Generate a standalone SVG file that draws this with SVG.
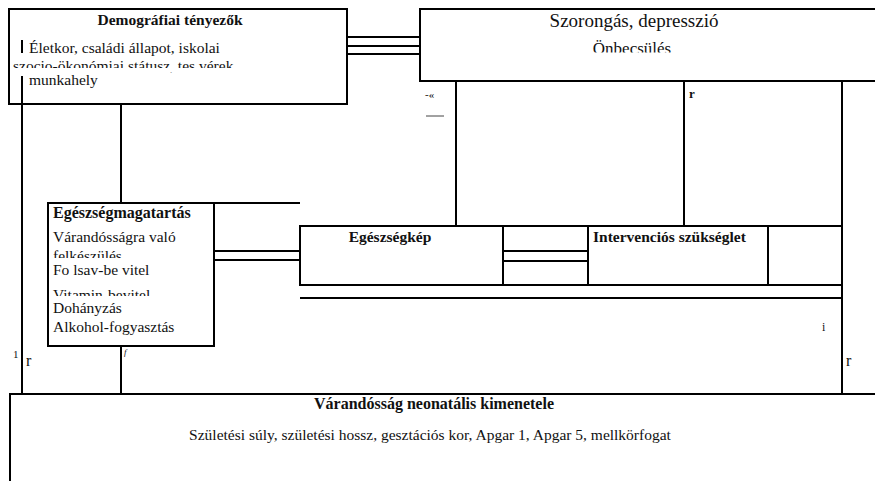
<svg xmlns="http://www.w3.org/2000/svg" width="875" height="481" viewBox="0 0 875 481">
<style>
.b{fill:none;stroke:#000;stroke-width:2}
.l{stroke:#000;stroke-width:2;fill:none}
text{font-family:"Liberation Serif","Times New Roman",serif;fill:#111}
.t{font-size:15.5px}
.h{font-size:15.5px;font-weight:bold}
</style>
<defs>
<clipPath id="c1"><rect x="10" y="0" width="336" height="68"/><rect x="10" y="72" width="336" height="30"/></clipPath>
<clipPath id="c2"><rect x="420" y="0" width="455" height="52.5"/></clipPath>
<clipPath id="c3"><rect x="48" y="204" width="166" height="54"/><rect x="48" y="262" width="166" height="34"/><rect x="48" y="301" width="166" height="45"/></clipPath>
</defs>
<g id="connectors">
<line class="l" x1="347" y1="37" x2="420" y2="37"/>
<line class="l" x1="347" y1="46" x2="420" y2="46"/>
<line class="l" x1="347" y1="54" x2="420" y2="54"/>
<line class="l" x1="22" y1="76" x2="22" y2="394"/>
<line class="l" x1="22" y1="40" x2="22" y2="53"/>
<line class="l" x1="121" y1="104" x2="121" y2="203"/>
<line class="l" x1="121" y1="346" x2="121" y2="394"/>
<line class="l" x1="456" y1="81" x2="456" y2="226"/>
<line class="l" x1="684" y1="81" x2="684" y2="226"/>
<line class="l" x1="842" y1="81" x2="842" y2="394"/>
<line class="l" x1="214" y1="203" x2="300" y2="203"/>
<line class="l" x1="214" y1="251" x2="300" y2="251"/>
<line class="l" x1="214" y1="260" x2="300" y2="260"/>
<line class="l" x1="503" y1="251" x2="588" y2="251"/>
<line class="l" x1="503" y1="261" x2="588" y2="261"/>
<line class="l" x1="300" y1="298" x2="842" y2="298"/>
<text style="font-size:11px" x="425" y="98">-«</text>
<line x1="426" y1="116" x2="444" y2="116" stroke="#444" stroke-width="1"/>
<text style="font-size:13px;font-weight:bold" x="689" y="98">r</text>
<text style="font-size:12px" x="822" y="331">i</text>
<text style="font-size:16px" x="846" y="366">r</text>
<text style="font-size:11px" x="13" y="358">1</text>
<text style="font-size:16px" x="26" y="366">r</text>
<text style="font-size:9px;font-style:italic" x="124" y="355">f</text>
</g>
<g id="demografiai">
<rect class="b" x="9" y="9" width="338" height="95"/>
<text class="h" x="170" y="25" text-anchor="middle">Demográfiai tényezők</text>
<g clip-path="url(#c1)">
<text class="t" x="29" y="53">Életkor, családi állapot, iskolai</text>
<text class="t" x="13" y="70.5">szocio-ökonómiai státusz, tes      vérek</text>
<text class="t" x="29" y="85">munkahely</text>
</g>
</g>
<g id="szorongas">
<path class="b" d="M876 9H420V81H876"/>
<g clip-path="url(#c2)">
<text style="font-size:19px" x="634" y="27" text-anchor="middle">Szorongás, depresszió</text>
<text style="font-size:17px" x="632" y="54" text-anchor="middle">Önbecsülés</text>
</g>
</g>
<g id="egeszsegmagatartas">
<rect class="b" x="48" y="203" width="166" height="143"/>
<text class="h" x="53" y="218" style="font-size:16px">Egészségmagatartás</text>
<g clip-path="url(#c3)">
<text class="t" x="53" y="242">Várandósságra való</text>
<text class="t" x="53" y="261">felkészülés</text>
<text class="t" x="53" y="275">Fo lsav-be vitel</text>
<text class="t" x="53" y="300">Vitamin-bevitel</text>
<text class="t" x="53" y="313">Dohányzás</text>
<text class="t" x="53" y="332">Alkohol-fogyasztás</text>
</g>
</g>
<g id="egeszsegkep">
<rect class="b" x="300" y="226" width="203" height="59"/>
<text class="h" x="390" y="242" text-anchor="middle">Egészségkép</text>
</g>
<g id="kozep">
<rect class="b" x="503" y="226" width="85" height="59"/>
</g>
<g id="intervencios">
<rect class="b" x="588" y="226" width="180" height="59"/>
<text class="h" x="593" y="242">Intervenciós szükséglet</text>
</g>
<g id="jobb">
<rect class="b" x="768" y="226" width="74" height="59"/>
</g>
<g id="kimenetel">
<path class="b" d="M10 482V394H876"/>
<text class="h" x="434" y="409" text-anchor="middle" style="font-size:16px">Várandósság neonatális kimenetele</text>
<text class="t" x="430" y="440" text-anchor="middle">Születési súly, születési hossz, gesztációs kor, Apgar 1, Apgar 5, mellkörfogat</text>
</g>
</svg>
